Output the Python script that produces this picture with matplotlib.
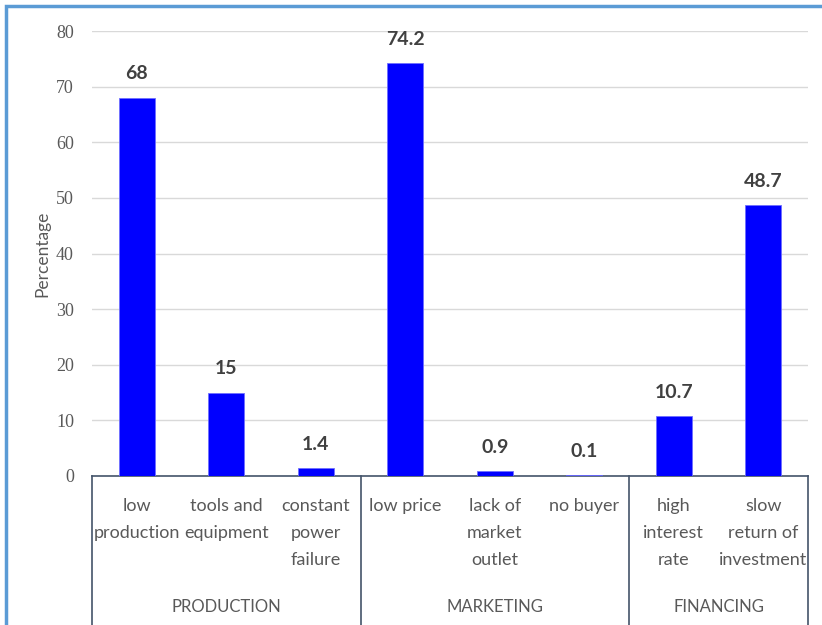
import matplotlib.pyplot as plt
from matplotlib.patches import Rectangle

categories = ["low\nproduction", "tools and\nequipment", "constant\npower\nfailure",
              "low price", "lack of\nmarket\noutlet", "no buyer",
              "high\ninterest\nrate", "slow\nreturn of\ninvestment"]
values = [68, 15, 1.4, 74.2, 0.9, 0.1, 10.7, 48.7]
value_labels = ["68", "15", "1.4", "74.2", "0.9", "0.1", "10.7", "48.7"]
groups = ["PRODUCTION", "MARKETING", "FINANCING"]
group_sizes = [3, 3, 2]

gray = "#595959"
line_col = "#44546A"

fig = plt.figure(figsize=(8.22, 6.25), dpi=100)
ax = fig.add_axes([92 / 822, 149 / 625, 716 / 822, 445 / 625])

x = list(range(len(values)))
ax.bar(x, values, width=0.4, color="#0000FF", edgecolor="#6f6fff", linewidth=0.6, zorder=3)
for xi, v, lab in zip(x, values, value_labels):
    ax.annotate(lab, (xi, v), xytext=(0, 11), textcoords="offset points",
                ha="center", va="bottom", fontsize=14, fontweight="bold",
                color="#404040", family="Lato")

ax.set_xlim(-0.5, len(values) - 0.5)
ax.set_ylim(0, 80)
ax.set_yticks(range(0, 81, 10))
ax.yaxis.grid(True, color="#d9d9d9", linewidth=1, zorder=0)
ax.set_axisbelow(True)
for s in ["top", "right", "left"]:
    ax.spines[s].set_visible(False)
ax.spines["bottom"].set_color(line_col)
ax.spines["bottom"].set_linewidth(1.2)
ax.tick_params(axis="y", length=0, pad=13, labelsize=13, labelcolor=gray)
for t in ax.get_yticklabels():
    t.set_family("Liberation Serif")
ax.set_xticks([])
ax.set_ylabel("Percentage", fontsize=12.5, color=gray, family="Lato", labelpad=4)

# category labels
trans = ax.get_xaxis_transform()
for xi, lab in zip(x, categories):
    ax.text(xi, -0.05, lab, transform=trans, ha="center", va="top",
            fontsize=13, color=gray, family="Lato", linespacing=1.85)

# group separators and labels
start = 0
bounds = [-0.5]
for g, n in zip(groups, group_sizes):
    ax.text(start + (n - 1) / 2, -0.295, g, transform=trans, ha="center",
            va="center", fontsize=12, color=gray, family="Lato")
    start += n
    bounds.append(start - 0.5)
for b in bounds:
    ax.plot([b, b], [0, -0.36], transform=trans, color=line_col,
            linewidth=1.2, clip_on=False)

# outer chart border
fig.patches.append(Rectangle((6 / 822, -0.1), 1.2, 0.1 + 619 / 625,
                             transform=fig.transFigure, fill=False,
                             edgecolor="#5B9BD5", linewidth=2.5))

fig.savefig("out.png", dpi=100)
